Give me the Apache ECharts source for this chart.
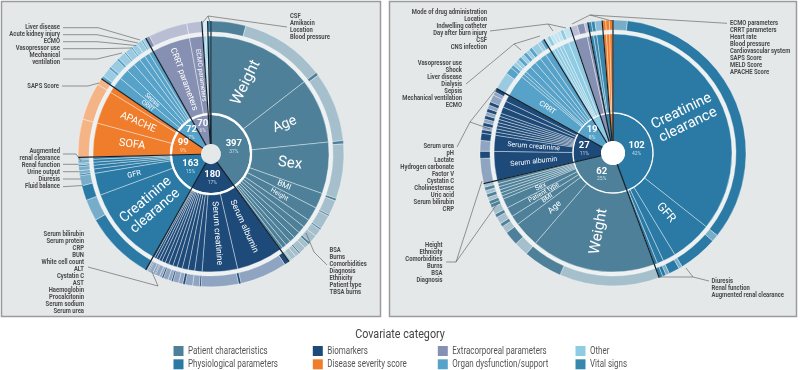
<!DOCTYPE html>
<html>
<head>
<meta charset="utf-8">
<script src="https://cdn.jsdelivr.net/npm/echarts@6/dist/echarts.min.js"></script>
<style>
  html, body { margin: 0; padding: 0; background: #fff; }
  #main { width: 800px; height: 370px; }
</style>
</head>
<body>
<div id="main"></div>
<script>
// ---- data -------------------------------------------------------------
// legend order (column by column)
const legendCats = ['Patient characteristics', 'Physiological parameters', 'Biomarkers', 'Disease severity score',
  'Extracorporeal parameters', 'Organ dysfunction/support', 'Other', 'Vital signs'];

// left panel
const leftCats = ['Patient characteristics', 'Biomarkers', 'Physiological parameters', 'Disease severity score',
  'Organ dysfunction/support', 'Extracorporeal parameters', 'Other', 'Vital signs'];
const leftCounts = ['397', '180', '163', '99', '72', '70', '', ''];
const leftPct = ['37%', '17%', '15%', '9%', '7%', '6%', '', ''];
const leftCovNames = [
  ['Weight', 'Age', 'Sex', 'BMI', 'Height', 'BSA', 'Burns', 'Comorbidities', 'Diagnosis', 'Ethnicity', 'Patient type', 'TBSA burns'],
  ['Serum albumin', 'Serum creatinine', 'Serum bilirubin', 'Serum protein', 'CRP', 'BUN', 'White cell count', 'ALT',
    'Cystatin C', 'AST', 'Haemoglobin', 'Procalcitonin', 'Serum sodium', 'Serum urea'],
  ['Creatinine clearance', 'GFR', 'Fluid balance', 'Diuresis', 'Urine output', 'Renal function', 'Augmented renal clearance'],
  ['SOFA', 'APACHE', 'SAPS Score'],
  ['CRRT', 'Sepsis', 'Mechanical ventilation', 'Vasopressor use', 'ECMO', 'Acute kidney injury', 'Liver disease'],
  ['CRRT parameters', 'ECMO parameters'],
  ['CSF', 'Amikacin', 'Location'],
  ['Blood pressure']
];
const leftCovValues = [
  [144, 88, 70, 21, 19, 11, 10, 9, 8, 7, 6, 4],
  [63, 48, 10, 9, 8, 7, 6, 6, 5, 5, 4, 4, 3, 2],
  [111, 30, 6, 5, 4, 4, 3],
  [46, 45, 8],
  [15, 14, 12, 10, 8, 7, 6],
  [52, 18],
  [3, 2, 2],
  [4]
];
// outer ring: darker share of each covariate
const leftCovDark = [
  [42, 4, 4, 3, 2, 2, 0, 3, 0, 2, 0, 1],
  [6, 3, 2, 0, 3, 0, 2, 0, 2, 0, 1, 0, 1, 0],
  [85, 18, 2, 0, 2, 0, 1],
  [0, 0, 0],
  [4, 3, 3, 2, 2, 1, 2],
  [5, 0],
  [0, 0, 0],
  [4]
];

// right panel
const rightCats = ['Physiological parameters', 'Patient characteristics', 'Biomarkers', 'Organ dysfunction/support',
  'Other', 'Extracorporeal parameters', 'Vital signs', 'Disease severity score'];
const rightCounts = ['102', '62', '27', '19', '', '', '', ''];
const rightPct = ['42%', '25%', '11%', '8%', '', '', '', ''];
const rightCovNames = [
  ['Creatinine clearance', 'GFR', 'Diuresis', 'Renal function', 'Augmented renal clearance'],
  ['Weight', 'Age', 'BMI', 'Patient type', 'Sex', 'Diagnosis', 'BSA', 'Burns', 'Comorbidities', 'Ethnicity', 'Height'],
  ['Serum albumin', 'Serum creatinine', 'CRP', 'Serum bilirubin', 'Uric acid', 'Cholinesterase', 'Cystatin C',
    'Factor V', 'Hydrogen carbonate', 'Lactate', 'pH', 'Serum urea'],
  ['CRRT', 'ECMO', 'Mechanical ventilation', 'Sepsis', 'Dialysis', 'Liver disease', 'Shock', 'Vasopressor use'],
  ['CNS infection', 'CSF', 'Day after burn injury', 'Indwelling catheter', 'Location', 'Mode of drug administration'],
  ['CRRT parameters', 'ECMO parameters'],
  ['Cardiovascular system', 'Blood pressure', 'Heart rate'],
  ['APACHE Score', 'MELD Score', 'SAPS Score']
];
const rightCovValues = [
  [82, 13, 4, 2, 1],
  [39, 8, 3, 3, 3, 1, 1, 1, 1, 1, 1],
  [9, 5, 1, 1, 1, 1, 1, 1, 1, 2, 2, 2],
  [7, 1, 1, 2, 2, 2, 2, 2],
  [1, 1, 1, 1, 2, 2],
  [4, 1],
  [1, 1, 2],
  [1, 1, 1]
];
const rightCovDark = [
  [78, 11, 3, 1, 1],
  [11, 4, 1, 1, 1, 1, 0, 1, 0, 1, 0],
  [2, 2, 1, 0, 1, 0, 1, 0, 1, 1, 0, 1],
  [2, 1, 0, 1, 1, 1, 0, 1],
  [0, 1, 0, 0, 1, 0],
  [2, 0],
  [1, 1, 0],
  [1, 1, 1]
];

// labelled small covariates outside the rings
const annLeft = [
  ['Liver disease', 'Acute kidney injury', 'ECMO', 'Vasopressor use', 'Mechanical', 'ventilation'],
  ['SAPS Score'],
  ['Augmented', 'renal clearance', 'Renal function', 'Urine output', 'Diuresis', 'Fluid balance'],
  ['Serum bilirubin', 'Serum protein', 'CRP', 'BUN', 'White cell count', 'ALT', 'Cystatin C', 'AST',
    'Haemoglobin', 'Procalcitonin', 'Serum sodium', 'Serum urea'],
  ['CSF', 'Amikacin', 'Location', 'Blood pressure'],
  ['BSA', 'Burns', 'Comorbidities', 'Diagnosis', 'Ethnicity', 'Patient type', 'TBSA burns']
];
const annRight = [
  ['Mode of drug administration', 'Location', 'Indwelling catheter', 'Day after burn injury', 'CSF', 'CNS infection'],
  ['Vasopressor use', 'Shock', 'Liver disease', 'Dialysis', 'Sepsis', 'Mechanical ventilation', 'ECMO'],
  ['Serum urea', 'pH', 'Lactate', 'Hydrogen carbonate', 'Factor V', 'Cystatin C', 'Cholinesterase', 'Uric acid',
    'Serum bilirubin', 'CRP'],
  ['Height', 'Ethnicity', 'Comorbidities', 'Burns', 'BSA', 'Diagnosis'],
  ['ECMO parameters', 'CRRT parameters', 'Heart rate', 'Blood pressure', 'Cardiovascular system', 'SAPS Score',
    'MELD Score', 'APACHE Score'],
  ['Diuresis', 'Renal function', 'Augmented renal clearance']
];

// ---- styles / layout ---------------------------------------------------
const FONT = "Roboto, 'Liberation Sans', sans-serif";
const catColor = {
  'Patient characteristics': '#4e8199',
  'Physiological parameters': '#2a7aa5',
  'Biomarkers': '#1d4a78',
  'Disease severity score': '#ef7d2c',
  'Extracorporeal parameters': '#8690b2',
  'Organ dysfunction/support': '#57a2c8',
  'Other': '#8fcbe2',
  'Vital signs': '#3887ad'
};
const catLight = {
  'Patient characteristics': '#a5c0cc',
  'Physiological parameters': '#77adc9',
  'Biomarkers': '#8ea4c1',
  'Disease severity score': '#f4b486',
  'Extracorporeal parameters': '#b9bed4',
  'Organ dysfunction/support': '#9bcbe1',
  'Other': '#c2e3f0',
  'Vital signs': '#88bcd6'
};
const leftLabelSize = {
  'Weight': 15.5, 'Age': 14, 'Sex': 15, 'BMI': 8, 'Height': 6.5, 'Serum albumin': 8.5, 'Serum creatinine': 8.5,
  'Creatinine clearance': 14, 'GFR': 7.5, 'SOFA': 11, 'APACHE': 10, 'CRRT': 6, 'Sepsis': 6,
  'CRRT parameters': 8.5, 'ECMO parameters': 6.5
};
const rightLabelSize = {
  'Creatinine clearance': 14.5, 'GFR': 12, 'Weight': 15, 'Age': 8.5, 'BMI': 6.5, 'Patient type': 6.5, 'Sex': 7,
  'Serum creatinine': 7, 'Serum albumin': 7, 'CRRT': 7.5
};
const L = { c: [211, 154], hole: 10, r1: [10, 39], r2: [41, 118], r3: [122, 133] };
const R = { c: [613, 153], hole: 12, r1: [12, 39.5], r2: [40.5, 119], r3: [123, 133] };

function buildTree(cats, names, values, dark, darkFirst, sizes) {
  return cats.map((c, i) => ({
    name: c,
    itemStyle: { color: catColor[c] },
    children: names[i].map((n, j) => {
      let parts = [
        { name: n + ' ', value: dark[i][j], itemStyle: { color: catColor[c] } },
        { name: n + '  ', value: values[i][j] - dark[i][j], itemStyle: { color: catLight[c] } }
      ];
      if (!darkFirst) parts.reverse();
      return {
        name: n,
        itemStyle: { color: catColor[c] },
        label: sizes[n] ? { show: true, fontSize: sizes[n], lineHeight: sizes[n] * 1.05 } : { show: false },
        children: parts.filter(p => p.value > 0)
      };
    })
  }));
}

const sum = arr => arr.reduce((s, v) => s + v, 0);
const total = values => sum(values.map(sum));

// [radius, start angle value, span value] for every category
function catSpans(values) {
  let acc = 0;
  return values.map(arr => {
    const item = [0, acc, sum(arr)];
    acc += item[2];
    return item;
  });
}

function sunburst(geo, tree) {
  return {
    type: 'sunburst',
    center: geo.c,
    radius: [geo.hole, geo.r3[1]],
    sort: null,
    startAngle: 90,
    nodeClick: false,
    emphasis: { disabled: true },
    data: tree,
    levels: [
      {},
      { r0: geo.r1[0], r: geo.r1[1], itemStyle: { borderWidth: 0 }, label: { show: false } },
      {
        r0: geo.r2[0], r: geo.r2[1],
        itemStyle: { borderColor: 'rgba(255,255,255,0.55)', borderWidth: 0.7 },
        label: {
          rotate: 'radial', color: '#fff', fontFamily: FONT,
          formatter: p => p.name === 'Creatinine clearance' ? 'Creatinine\nclearance' : p.name
        }
      },
      {
        r0: geo.r3[0], r: geo.r3[1],
        itemStyle: { borderColor: 'rgba(255,255,255,0.6)', borderWidth: 0.6 },
        label: { show: false }
      }
    ]
  };
}

function ring(geo, radius, color, z) {
  return {
    type: 'pie', center: geo.c, radius: radius, silent: true, z: z,
    label: { show: false }, labelLine: { show: false },
    itemStyle: { color: color, borderWidth: 0 },
    data: [{ value: 1 }]
  };
}

// black category dividers + the count / share labels of the inner ring
function dividers(idx, geo, values, counts, pcts) {
  const tot = total(values);
  return {
    type: 'custom', coordinateSystem: 'polar', polarIndex: idx, silent: true, z: 6,
    data: catSpans(values),
    renderItem: (params, api) => {
      const a = api.value(1);
      const span = api.value(2);
      const p0 = api.coord([geo.hole, a]);
      const p1 = api.coord([geo.r3[1], a]);
      const children = [{ type: 'line', shape: { x1: p0[0], y1: p0[1], x2: p1[0], y2: p1[1] },
        style: { stroke: '#15202a', lineWidth: 1.2 } }];
      const cnt = counts[params.dataIndex];
      if (cnt) {
        const r = span / tot > 0.15 ? 24 : 29;
        const pt = api.coord([r, a + span / 2]);
        children.push({ type: 'text', x: pt[0], y: pt[1], z2: 10, style: {
          text: '{n|' + cnt + '}\n{p|' + pcts[params.dataIndex] + '}', align: 'center', verticalAlign: 'middle',
          rich: {
            n: { fontFamily: FONT, fontSize: 9.5, fontWeight: 'bold', fill: '#fff', lineHeight: 10, align: 'center' },
            p: { fontFamily: FONT, fontSize: 5, fill: 'rgba(255,255,255,0.7)', lineHeight: 6, align: 'center' }
          } } });
      }
      return { type: 'group', children: children };
    }
  };
}

// annotation text blocks + leader lines
const annLayoutLeft = [
  { x: 60, y: 27.7, align: 'right' }, { x: 59, y: 86, align: 'right' }, { x: 60, y: 151, align: 'right' },
  { x: 84, y: 234.3, align: 'right' }, { x: 290, y: 16.7, align: 'left' }, { x: 329.5, y: 250.7, align: 'left' }
];
const annLayoutRight = [
  { x: 487, y: 12.7, align: 'right' }, { x: 462, y: 63.3, align: 'right' }, { x: 454, y: 146.7, align: 'right' },
  { x: 442.5, y: 245.7, align: 'right' }, { x: 730, y: 23.3, align: 'left' }, { x: 711.5, y: 281, align: 'left' }
];
const leaders = [
  [[63, 27.7], [98, 27.7], [140, 40]], [[63, 34.7], [97, 34.7], [138, 43]], [[63, 41.7], [97, 41.7], [136, 45.5]],
  [[63, 48.7], [99, 48.7], [132, 48]], [[63, 59], [97, 59], [122, 53]],
  [[62, 86], [88, 86], [99, 83]],
  [[63, 154], [76, 154], [81, 161]], [[63, 164.3], [78.5, 164.3]], [[63, 171.7], [79.5, 171.7]],
  [[63, 179], [81, 179]], [[63, 186.7], [83, 185.5]],
  [[88, 267], [158, 286], [152, 272]],
  [[287, 27], [208, 16], [203, 22]], [[208, 16], [210, 22]],
  [[327, 265], [314, 252], [306, 233]],
  [[490, 31], [548, 24], [553, 31]], [[548, 24], [566, 28]],
  [[466, 84], [514, 44], [521, 50]], [[514, 44], [540, 36]],
  [[457, 147], [470, 122], [497, 88]], [[470, 122], [490, 129]],
  [[446, 262], [456, 262], [482, 181]], [[456, 262], [497, 204]],
  [[727, 23.3], [590, 15], [572, 24]], [[590, 15], [612, 21]],
  [[709, 281], [693, 277], [660, 277]], [[693, 277], [686, 268]]
];

const graphics = [
  { type: 'rect', z: -10, shape: { x: 1.5, y: 1.5, width: 379, height: 315 },
    style: { fill: '#e4e8e8', stroke: '#9b9b9b', lineWidth: 1.5 } },
  { type: 'rect', z: -10, shape: { x: 389.5, y: 1.5, width: 407, height: 315 },
    style: { fill: '#e4e8e8', stroke: '#9b9b9b', lineWidth: 1.5 } }
];
function narrowText(t, x, y, align, font, fill, sx) {
  return { type: 'text', z: 20, x: x, y: y, scaleX: sx,
    style: { text: t, x: 0, y: 0, textAlign: align, textVerticalAlign: 'middle', font: font, fill: fill } };
}
function addAnn(lists, layout) {
  lists.forEach((list, k) => {
    list.forEach((t, i) => {
      graphics.push(narrowText(t, layout[k].x, layout[k].y + i * 6.95, layout[k].align,
        'bold 7px ' + FONT, '#4a4a4a', 0.84));
    });
  });
}
addAnn(annLeft, annLayoutLeft);
addAnn(annRight, annLayoutRight);
leaders.forEach(pts => graphics.push({ type: 'polyline', z: 20, shape: { points: pts },
  style: { stroke: '#555', lineWidth: 0.6, fill: null } }));

// legend
graphics.push(narrowText('Covariate category', 400, 335, 'center', '12.5px ' + FONT, '#444', 0.86));
const legendX = [173.5, 312.8, 437.8, 575.5];
legendCats.forEach((c, i) => {
  const x = legendX[Math.floor(i / 2)];
  const y = i % 2 === 0 ? 346 : 359.3;
  graphics.push({ type: 'rect', z: 20, shape: { x: x, y: y, width: 10, height: 10 }, style: { fill: catColor[c] } });
  graphics.push(narrowText(c, x + 14.5, y + 5.3, 'left', '10px ' + FONT, '#555', 0.8));
});

// ---- chart -------------------------------------------------------------
const chart = echarts.init(document.getElementById('main'));
const leftTree = buildTree(leftCats, leftCovNames, leftCovValues, leftCovDark, true, leftLabelSize);
const rightTree = buildTree(rightCats, rightCovNames, rightCovValues, rightCovDark, false, rightLabelSize);

chart.setOption({
  animation: false,
  backgroundColor: '#ffffff',
  textStyle: { fontFamily: FONT },
  polar: [
    { center: L.c, radius: [0, L.r3[1]] },
    { center: R.c, radius: [0, R.r3[1]] }
  ],
  angleAxis: [
    { polarIndex: 0, type: 'value', min: 0, max: total(leftCovValues), startAngle: 90, clockwise: true, show: false },
    { polarIndex: 1, type: 'value', min: 0, max: total(rightCovValues), startAngle: 90, clockwise: true, show: false }
  ],
  radiusAxis: [
    { polarIndex: 0, type: 'value', min: 0, max: L.r3[1], show: false },
    { polarIndex: 1, type: 'value', min: 0, max: R.r3[1], show: false }
  ],
  graphic: graphics,
  series: [
    ring(L, [L.r2[1], L.r3[0]], '#edf1f2', 1),
    ring(R, [R.r2[1], R.r3[0]], '#edf1f2', 1),
    sunburst(L, leftTree),
    sunburst(R, rightTree),
    ring(L, [L.r1[1], L.r2[0]], '#ffffff', 4),
    ring(R, [R.r1[1], R.r2[0]], 'rgba(255,255,255,0.85)', 4),
    ring(R, [0, R.hole], '#ffffff', 4),
    dividers(0, L, leftCovValues, leftCounts, leftPct),
    dividers(1, R, rightCovValues, rightCounts, rightPct)
  ]
});
</script>
</body>
</html>
